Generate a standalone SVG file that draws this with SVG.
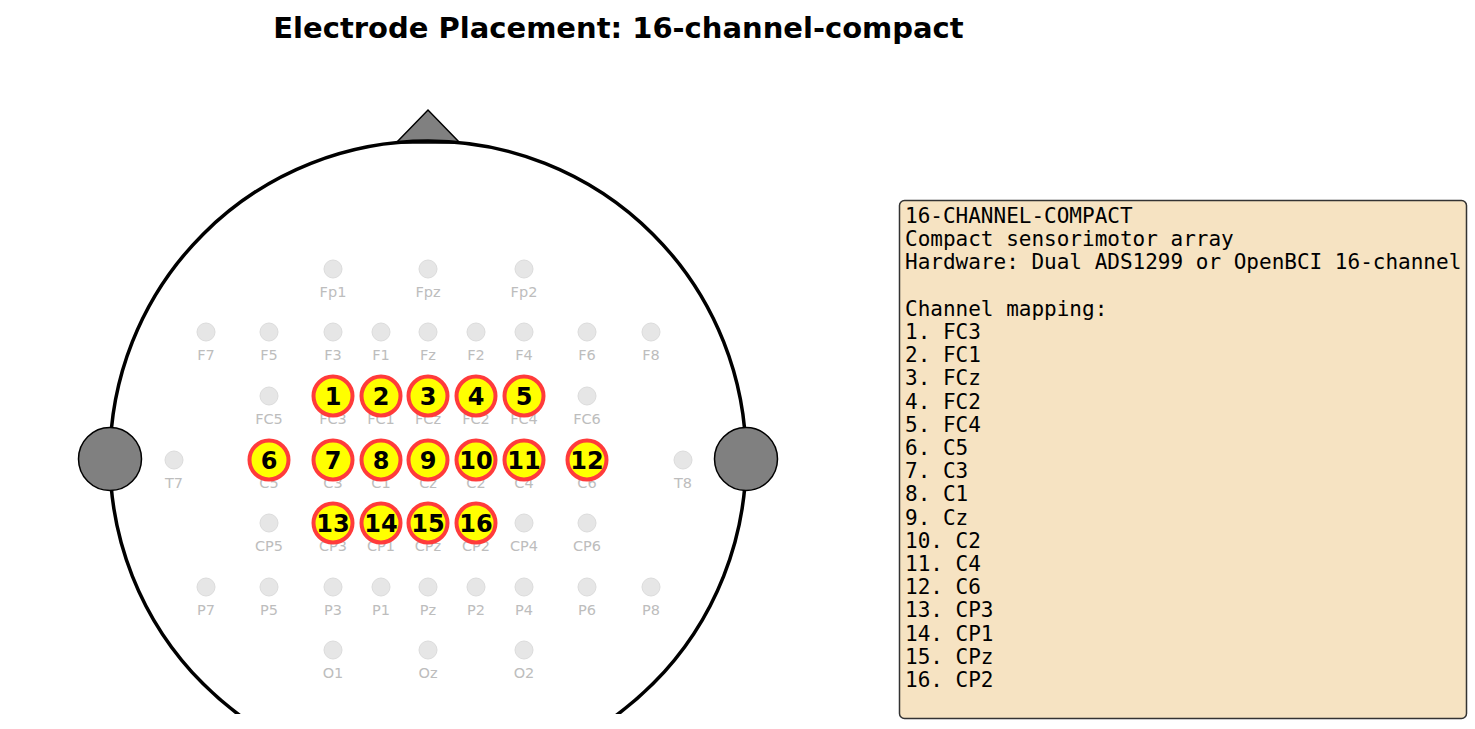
<svg xmlns="http://www.w3.org/2000/svg" width="1475" height="729" viewBox="0 0 1475 729">
<style>
.e{fill:#e6e6e6;stroke:#dcdcdc;stroke-width:1}
.l{font-family:"DejaVu Sans",sans-serif;font-size:14.5px;fill:#bdbdbd;text-anchor:middle}
.h{fill:#ffff00;stroke:#ff3b3b;stroke-width:4}
.n{font-family:"DejaVu Sans",sans-serif;font-size:24px;font-weight:bold;fill:#000;text-anchor:middle}
.m{font-family:"DejaVu Sans Mono",monospace;font-size:21px;fill:#000}
</style>
<defs><clipPath id="c"><rect x="0" y="0" width="1475" height="714"/></clipPath></defs>
<rect width="1475" height="729" fill="#fff"/>
<text x="618.5" y="38" font-family="DejaVu Sans,sans-serif" font-size="29px" font-weight="bold" text-anchor="middle">Electrode Placement: 16-channel-compact</text>
<g id="head" clip-path="url(#c)">
<polygon points="396,143 428,110 460,143" fill="#808080" stroke="#000" stroke-width="1.5"/>
<circle cx="428" cy="459" r="318" fill="none" stroke="#000" stroke-width="3.5"/>
</g>
<g id="ears">
<circle cx="110" cy="459" r="31.5" fill="#808080" stroke="#000" stroke-width="1.5"/>
<circle cx="746" cy="459" r="31.5" fill="#808080" stroke="#000" stroke-width="1.5"/>
</g>
<g id="electrodes">
<g id="Fp1"><circle class="e" cx="333" cy="269" r="9"/><text class="l" x="333" y="297">Fp1</text></g>
<g id="Fpz"><circle class="e" cx="428" cy="269" r="9"/><text class="l" x="428" y="297">Fpz</text></g>
<g id="Fp2"><circle class="e" cx="524" cy="269" r="9"/><text class="l" x="524" y="297">Fp2</text></g>
<g id="F7"><circle class="e" cx="206" cy="332" r="9"/><text class="l" x="206" y="360">F7</text></g>
<g id="F5"><circle class="e" cx="269" cy="332" r="9"/><text class="l" x="269" y="360">F5</text></g>
<g id="F3"><circle class="e" cx="333" cy="332" r="9"/><text class="l" x="333" y="360">F3</text></g>
<g id="F1"><circle class="e" cx="381" cy="332" r="9"/><text class="l" x="381" y="360">F1</text></g>
<g id="Fz"><circle class="e" cx="428" cy="332" r="9"/><text class="l" x="428" y="360">Fz</text></g>
<g id="F2"><circle class="e" cx="476" cy="332" r="9"/><text class="l" x="476" y="360">F2</text></g>
<g id="F4"><circle class="e" cx="524" cy="332" r="9"/><text class="l" x="524" y="360">F4</text></g>
<g id="F6"><circle class="e" cx="587" cy="332" r="9"/><text class="l" x="587" y="360">F6</text></g>
<g id="F8"><circle class="e" cx="651" cy="332" r="9"/><text class="l" x="651" y="360">F8</text></g>
<g id="FC5"><circle class="e" cx="269" cy="396" r="9"/><text class="l" x="269" y="424">FC5</text></g>
<g id="FC3"><circle class="e" cx="333" cy="396" r="9"/><text class="l" x="333" y="424">FC3</text></g>
<g id="FC1"><circle class="e" cx="381" cy="396" r="9"/><text class="l" x="381" y="424">FC1</text></g>
<g id="FCz"><circle class="e" cx="428" cy="396" r="9"/><text class="l" x="428" y="424">FCz</text></g>
<g id="FC2"><circle class="e" cx="476" cy="396" r="9"/><text class="l" x="476" y="424">FC2</text></g>
<g id="FC4"><circle class="e" cx="524" cy="396" r="9"/><text class="l" x="524" y="424">FC4</text></g>
<g id="FC6"><circle class="e" cx="587" cy="396" r="9"/><text class="l" x="587" y="424">FC6</text></g>
<g id="T7"><circle class="e" cx="174" cy="460" r="9"/><text class="l" x="174" y="488">T7</text></g>
<g id="C5"><circle class="e" cx="269" cy="460" r="9"/><text class="l" x="269" y="488">C5</text></g>
<g id="C3"><circle class="e" cx="333" cy="460" r="9"/><text class="l" x="333" y="488">C3</text></g>
<g id="C1"><circle class="e" cx="381" cy="460" r="9"/><text class="l" x="381" y="488">C1</text></g>
<g id="Cz"><circle class="e" cx="428" cy="460" r="9"/><text class="l" x="428" y="488">Cz</text></g>
<g id="C2"><circle class="e" cx="476" cy="460" r="9"/><text class="l" x="476" y="488">C2</text></g>
<g id="C4"><circle class="e" cx="524" cy="460" r="9"/><text class="l" x="524" y="488">C4</text></g>
<g id="C6"><circle class="e" cx="587" cy="460" r="9"/><text class="l" x="587" y="488">C6</text></g>
<g id="T8"><circle class="e" cx="683" cy="460" r="9"/><text class="l" x="683" y="488">T8</text></g>
<g id="CP5"><circle class="e" cx="269" cy="523" r="9"/><text class="l" x="269" y="551">CP5</text></g>
<g id="CP3"><circle class="e" cx="333" cy="523" r="9"/><text class="l" x="333" y="551">CP3</text></g>
<g id="CP1"><circle class="e" cx="381" cy="523" r="9"/><text class="l" x="381" y="551">CP1</text></g>
<g id="CPz"><circle class="e" cx="428" cy="523" r="9"/><text class="l" x="428" y="551">CPz</text></g>
<g id="CP2"><circle class="e" cx="476" cy="523" r="9"/><text class="l" x="476" y="551">CP2</text></g>
<g id="CP4"><circle class="e" cx="524" cy="523" r="9"/><text class="l" x="524" y="551">CP4</text></g>
<g id="CP6"><circle class="e" cx="587" cy="523" r="9"/><text class="l" x="587" y="551">CP6</text></g>
<g id="P7"><circle class="e" cx="206" cy="587" r="9"/><text class="l" x="206" y="615">P7</text></g>
<g id="P5"><circle class="e" cx="269" cy="587" r="9"/><text class="l" x="269" y="615">P5</text></g>
<g id="P3"><circle class="e" cx="333" cy="587" r="9"/><text class="l" x="333" y="615">P3</text></g>
<g id="P1"><circle class="e" cx="381" cy="587" r="9"/><text class="l" x="381" y="615">P1</text></g>
<g id="Pz"><circle class="e" cx="428" cy="587" r="9"/><text class="l" x="428" y="615">Pz</text></g>
<g id="P2"><circle class="e" cx="476" cy="587" r="9"/><text class="l" x="476" y="615">P2</text></g>
<g id="P4"><circle class="e" cx="524" cy="587" r="9"/><text class="l" x="524" y="615">P4</text></g>
<g id="P6"><circle class="e" cx="587" cy="587" r="9"/><text class="l" x="587" y="615">P6</text></g>
<g id="P8"><circle class="e" cx="651" cy="587" r="9"/><text class="l" x="651" y="615">P8</text></g>
<g id="O1"><circle class="e" cx="333" cy="650" r="9"/><text class="l" x="333" y="678">O1</text></g>
<g id="Oz"><circle class="e" cx="428" cy="650" r="9"/><text class="l" x="428" y="678">Oz</text></g>
<g id="O2"><circle class="e" cx="524" cy="650" r="9"/><text class="l" x="524" y="678">O2</text></g>
</g>
<g id="channels">
<g id="ch1"><circle class="h" cx="333" cy="396" r="19.5"/><text class="n" x="333" y="405">1</text></g>
<g id="ch2"><circle class="h" cx="381" cy="396" r="19.5"/><text class="n" x="381" y="405">2</text></g>
<g id="ch3"><circle class="h" cx="428" cy="396" r="19.5"/><text class="n" x="428" y="405">3</text></g>
<g id="ch4"><circle class="h" cx="476" cy="396" r="19.5"/><text class="n" x="476" y="405">4</text></g>
<g id="ch5"><circle class="h" cx="524" cy="396" r="19.5"/><text class="n" x="524" y="405">5</text></g>
<g id="ch6"><circle class="h" cx="269" cy="460" r="19.5"/><text class="n" x="269" y="469">6</text></g>
<g id="ch7"><circle class="h" cx="333" cy="460" r="19.5"/><text class="n" x="333" y="469">7</text></g>
<g id="ch8"><circle class="h" cx="381" cy="460" r="19.5"/><text class="n" x="381" y="469">8</text></g>
<g id="ch9"><circle class="h" cx="428" cy="460" r="19.5"/><text class="n" x="428" y="469">9</text></g>
<g id="ch10"><circle class="h" cx="476" cy="460" r="19.5"/><text class="n" x="476" y="469">10</text></g>
<g id="ch11"><circle class="h" cx="524" cy="460" r="19.5"/><text class="n" x="524" y="469">11</text></g>
<g id="ch12"><circle class="h" cx="587" cy="460" r="19.5"/><text class="n" x="587" y="469">12</text></g>
<g id="ch13"><circle class="h" cx="333" cy="523" r="19.5"/><text class="n" x="333" y="532">13</text></g>
<g id="ch14"><circle class="h" cx="381" cy="523" r="19.5"/><text class="n" x="381" y="532">14</text></g>
<g id="ch15"><circle class="h" cx="428" cy="523" r="19.5"/><text class="n" x="428" y="532">15</text></g>
<g id="ch16"><circle class="h" cx="476" cy="523" r="19.5"/><text class="n" x="476" y="532">16</text></g>
</g>
<g id="connectors"></g>
<g id="legend">
<rect x="899.5" y="200.5" width="567" height="518" rx="5" fill="#f6e3c2" stroke="#333" stroke-width="1.5"/>
<text class="m" x="905" y="223">
<tspan x="905" y="223">16-CHANNEL-COMPACT</tspan>
<tspan x="905" dy="23.2">Compact sensorimotor array</tspan>
<tspan x="905" dy="23.2">Hardware: Dual ADS1299 or OpenBCI 16-channel</tspan>
<tspan x="905" dy="46.4">Channel mapping:</tspan>
<tspan x="905" dy="23.2">1. FC3</tspan>
<tspan x="905" dy="23.2">2. FC1</tspan>
<tspan x="905" dy="23.2">3. FCz</tspan>
<tspan x="905" dy="23.2">4. FC2</tspan>
<tspan x="905" dy="23.2">5. FC4</tspan>
<tspan x="905" dy="23.2">6. C5</tspan>
<tspan x="905" dy="23.2">7. C3</tspan>
<tspan x="905" dy="23.2">8. C1</tspan>
<tspan x="905" dy="23.2">9. Cz</tspan>
<tspan x="905" dy="23.2">10. C2</tspan>
<tspan x="905" dy="23.2">11. C4</tspan>
<tspan x="905" dy="23.2">12. C6</tspan>
<tspan x="905" dy="23.2">13. CP3</tspan>
<tspan x="905" dy="23.2">14. CP1</tspan>
<tspan x="905" dy="23.2">15. CPz</tspan>
<tspan x="905" dy="23.2">16. CP2</tspan>
</text>
</g>
</svg>
